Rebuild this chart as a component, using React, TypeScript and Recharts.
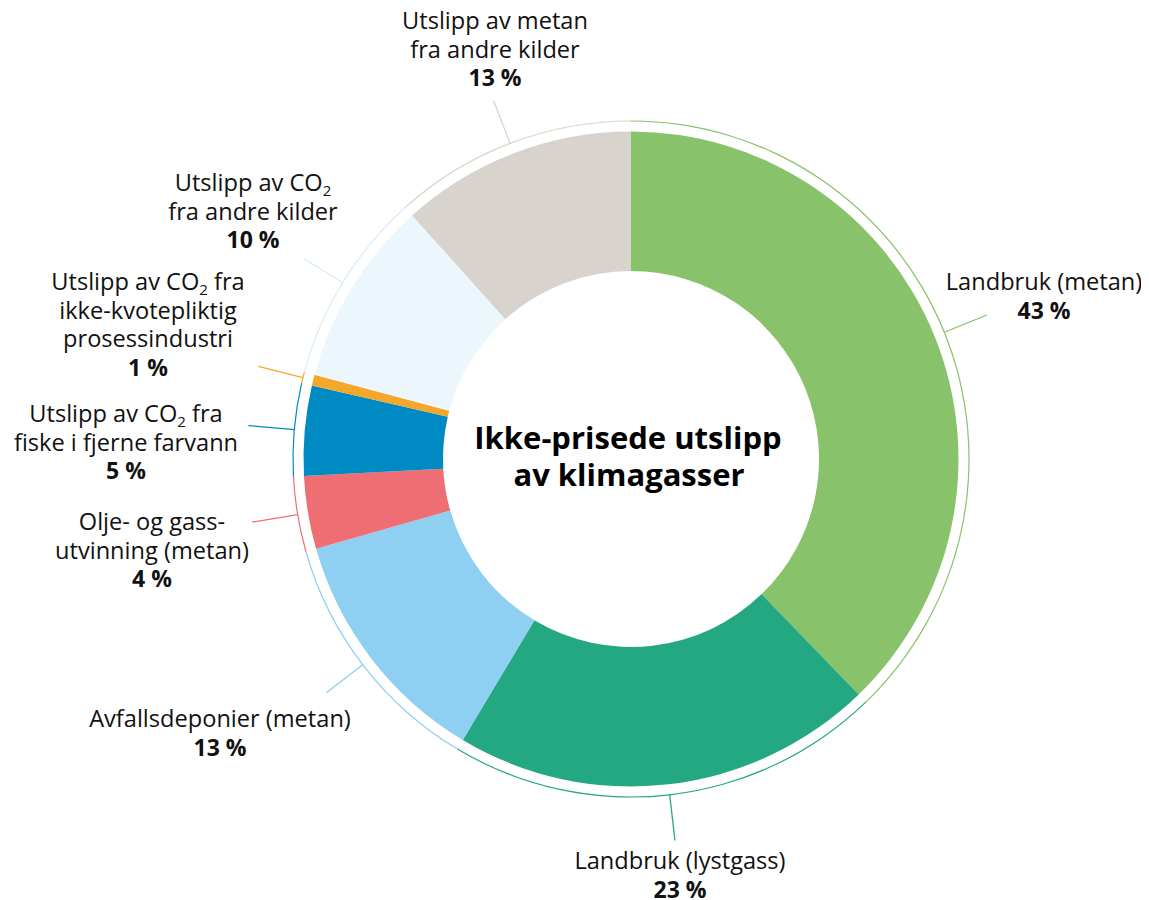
import React from "react";
import { PieChart, Pie, Cell } from "recharts";

const categories = [
  "Landbruk (metan)",
  "Landbruk (lystgass)",
  "Avfallsdeponier (metan)",
  "Olje- og gassutvinning (metan)",
  "Utslipp av CO2 fra fiske i fjerne farvann",
  "Utslipp av CO2 fra ikke-kvotepliktig prosessindustri",
  "Utslipp av CO2 fra andre kilder",
  "Utslipp av metan fra andre kilder",
];
const shares = [37.76, 20.82, 11.99, 3.59, 4.44, 0.53, 9.21, 11.65];
const percentLabels = ["43 %", "23 %", "13 %", "4 %", "5 %", "1 %", "10 %", "13 %"];
// label lines: each line is a list of [text, isSubscript] parts
const labelLines: [string, boolean][][][] = [
  [[["Landbruk (metan)", false]]],
  [[["Landbruk (lystgass)", false]]],
  [[["Avfallsdeponier (metan)", false]]],
  [[["Olje- og gass-", false]], [["utvinning (metan)", false]]],
  [
    [["Utslipp av CO", false], ["2", true], [" fra", false]],
    [["fiske i fjerne farvann", false]],
  ],
  [
    [["Utslipp av CO", false], ["2", true], [" fra", false]],
    [["ikke-kvotepliktig", false]],
    [["prosessindustri", false]],
  ],
  [
    [["Utslipp av CO", false], ["2", true]],
    [["fra andre kilder", false]],
  ],
  [[["Utslipp av metan", false]], [["fra andre kilder", false]]],
];
const colors = ["#88C26A", "#24A882", "#8ECFF2", "#EF6E73", "#008AC3", "#F5A72B", "#EBF6FD", "#D9D3CD"];
const lineColors = ["#88C26A", "#24A882", "#8ECFF2", "#EF6E73", "#008AC3", "#F5A72B", "#D6ECFA", "#D9D3CD"];
const titleLines = ["Ikke-prisede utslipp", "av klimagasser"];

const data = categories.map((name, i) => ({ name, value: shares[i] }));

// layout: text centre x and first baseline y (svg coords)
const labelLayout = [
  { x: 1036, y: 282 },
  { x: 672, y: 861 },
  { x: 212, y: 719 },
  { x: 144, y: 522 },
  { x: 118, y: 414 },
  { x: 140, y: 282 },
  { x: 245, y: 183 },
  { x: 487, y: 21 },
];

const W = 1141;
const H = 892;
const CX = 623;
const CY = 451;
const RING_R = 338;
const LINE_END = 384;
const FONT = "'Open Sans', 'Noto Sans', sans-serif";
const LH = 28.5;
const RAD = Math.PI / 180;

const renderLabel = (props: any) => {
  const { cx, cy, midAngle, index } = props;
  const cos = Math.cos(-midAngle * RAD);
  const sin = Math.sin(-midAngle * RAD);
  const x1 = cx + RING_R * cos;
  const y1 = cy + RING_R * sin;
  const x2 = cx + LINE_END * cos;
  const y2 = cy + LINE_END * sin;
  const lay = labelLayout[index];
  const lines = labelLines[index];
  return (
    <g key={`lbl-${index}`}>
      <line x1={x1} y1={y1} x2={x2} y2={y2} stroke={lineColors[index]} strokeWidth={1.3} />
      <text textAnchor="middle" fontFamily={FONT} fontSize={23.6} fill="#111">
        {lines.map((parts, li) => (
          <tspan key={li} x={lay.x} y={lay.y + li * LH}>
            {parts.map(([t, sub], pi) =>
              sub ? (
                <tspan key={pi} fontSize={15} dy={5}>
                  {t}
                </tspan>
              ) : (
                <tspan key={pi} dy={pi > 0 && parts[pi - 1][1] ? -5 : 0}>
                  {t}
                </tspan>
              )
            )}
          </tspan>
        ))}
        <tspan x={lay.x} y={lay.y + lines.length * LH} fontWeight="bold" fontSize={23}>
          {percentLabels[index]}
        </tspan>
      </text>
    </g>
  );
};

export default function App() {
  return (
    <PieChart width={W} height={H} margin={{ top: 0, right: 0, bottom: 0, left: 0 }}>
      <Pie
        data={data}
        dataKey="value"
        cx={CX}
        cy={CY}
        innerRadius={188}
        outerRadius={327.5}
        startAngle={90}
        endAngle={-270}
        stroke="none"
        isAnimationActive={false}
      >
        {data.map((_, i) => (
          <Cell key={i} fill={colors[i]} />
        ))}
      </Pie>
      <Pie
        data={data}
        dataKey="value"
        cx={CX}
        cy={CY}
        innerRadius={337.4}
        outerRadius={338.6}
        startAngle={90}
        endAngle={-270}
        stroke="none"
        isAnimationActive={false}
        label={renderLabel}
        labelLine={false}
      >
        {data.map((_, i) => (
          <Cell key={i} fill={lineColors[i]} />
        ))}
      </Pie>
      <text textAnchor="middle" fontFamily={FONT} fontWeight="bold" fontSize={31} fill="#000">
        <tspan x={620} y={441}>
          {titleLines[0]}
        </tspan>
        <tspan x={621} y={478}>
          {titleLines[1]}
        </tspan>
      </text>
    </PieChart>
  );
}
